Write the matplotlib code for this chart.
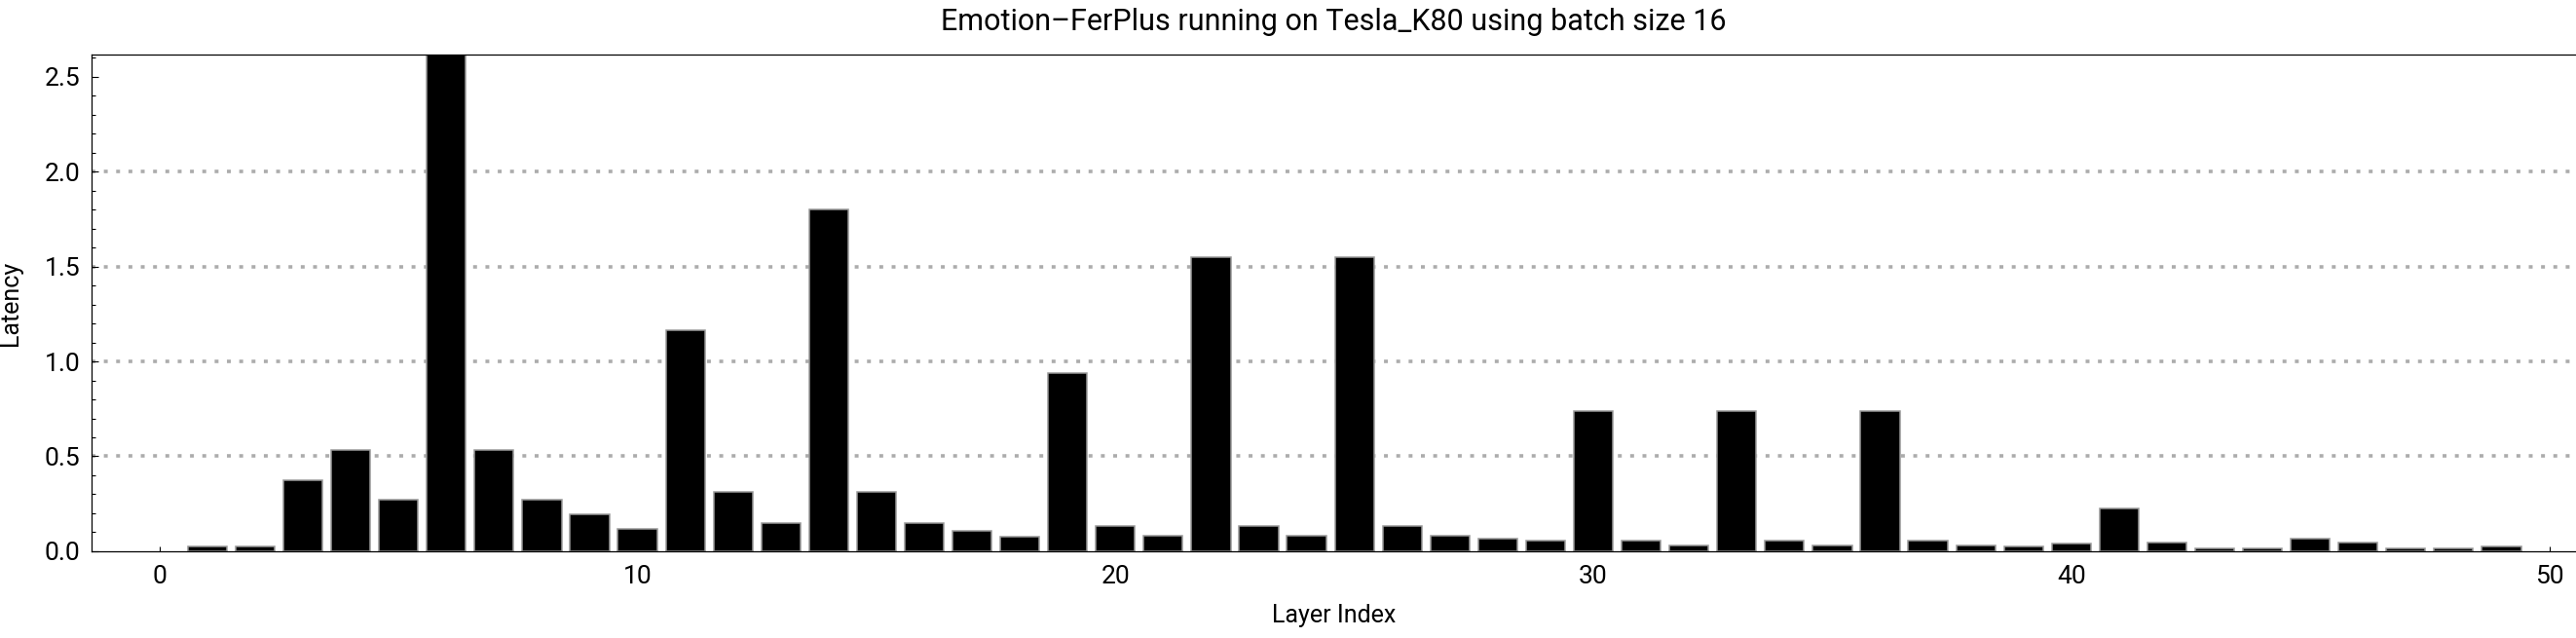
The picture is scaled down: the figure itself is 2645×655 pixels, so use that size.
import matplotlib
matplotlib.use("Agg")
import matplotlib.pyplot as plt
from matplotlib.ticker import MultipleLocator, FormatStrFormatter

# layer indices and latency per layer
layers = list(range(1, 50))
latency = [0.024, 0.024, 0.373, 0.532, 0.270, 2.70, 0.532, 0.270, 0.193, 0.116,
           1.167, 0.311, 0.146, 1.800, 0.311, 0.146, 0.105, 0.075, 0.938, 0.131,
           0.084, 1.549, 0.131, 0.084, 1.549, 0.131, 0.084, 0.064, 0.054, 0.736,
           0.058, 0.028, 0.736, 0.058, 0.028, 0.736, 0.058, 0.028, 0.024, 0.039,
           0.223, 0.047, 0.017, 0.017, 0.064, 0.047, 0.017, 0.017, 0.024]

title = "Emotion\u2013FerPlus running on Tesla_K80 using batch size 16"
grid_levels = [0.5, 1.0, 1.5, 2.0]

plt.rcParams['font.family'] = ['Roboto', 'DejaVu Sans']

fig = plt.figure(figsize=(26.45, 6.55), dpi=100)
ax = fig.add_axes([0.0354, 0.136, 0.9646, 0.778])

for g in grid_levels:
    ax.axhline(g, color='#acacac', lw=2.6, linestyle=(0, (1.1, 2.4)), zorder=1)

ax.bar(layers, latency, width=0.82, color='black', edgecolor='#999999',
       linewidth=1.1, zorder=2)

ax.set_xlim(-1.43, 50.56)
ax.set_ylim(0, 2.615)

ax.spines['right'].set_visible(False)
for s in ['left', 'top', 'bottom']:
    ax.spines[s].set_linewidth(0.9)

ax.xaxis.set_major_locator(MultipleLocator(10))
ax.yaxis.set_major_locator(MultipleLocator(0.5))
ax.yaxis.set_minor_locator(MultipleLocator(0.1))
ax.yaxis.set_major_formatter(FormatStrFormatter('%.1f'))
ax.tick_params(axis='y', which='major', direction='in', length=4.8, width=0.8,
               labelsize=19, pad=8)
ax.tick_params(axis='y', which='minor', direction='in', length=2.9, width=0.8)
ax.tick_params(axis='x', which='major', direction='in', length=3.8, width=0.8,
               labelsize=19, pad=10)
ax.tick_params(top=False, right=False)

ax.set_title(title, fontsize=22, pad=18)
ax.set_xlabel("Layer Index", fontsize=18, labelpad=12)
ax.set_ylabel("Latency", fontsize=18)
ax.yaxis.set_label_coords(-0.0277, 0.5)

fig.savefig("out.png", dpi=100)
